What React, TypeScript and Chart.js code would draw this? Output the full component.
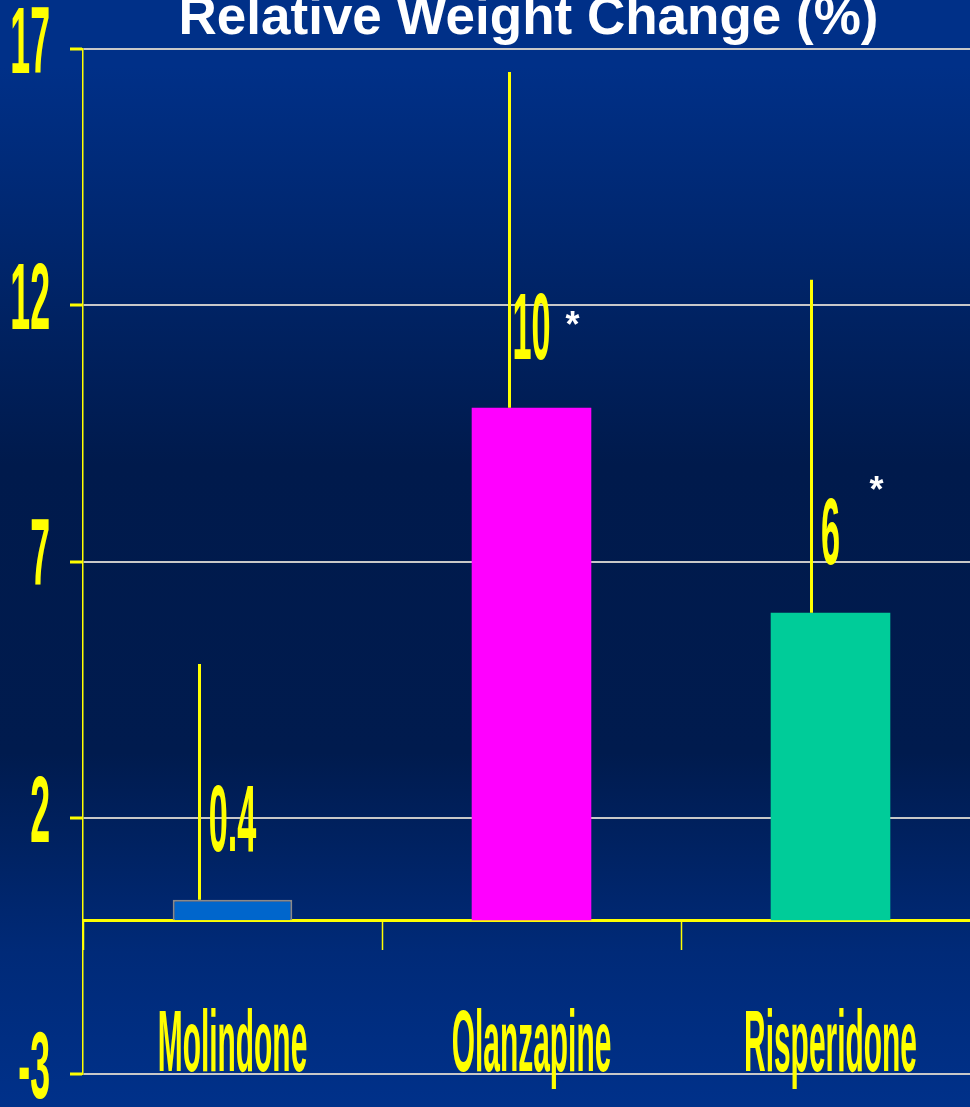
import { useEffect, useRef } from "react";
import { Chart, registerables } from "chart.js";

Chart.register(...registerables);

// ---- data ----
const categories = ["Molindone", "Olanzapine", "Risperidone"];
const values = [0.4, 10, 6];
const valueLabels = ["0.4", "10", "6"];
const errorUpper = [5.0, 16.55, 12.5];
const significant = [false, true, true];
const yTickValues = [-3, 2, 7, 12, 17];
const yTickLabels = ["-3", "2", "7", "12", "17"];
const barColors = ["#0066cc", "#ff00ff", "#00cc99"];
const titleText = "Relative Weight Change (%)";

// ---- styles ----
const YELLOW = "#ffff00";
const ERR_SHIFT = [-33, -22, -19];
const STAR_OFFSETS: ({ dx: number; dy: number } | null)[] = [null, { dx: 41, dy: -87 }, { dx: 46, dy: -127 }];
const FONT = '"Liberation Sans", Arial, sans-serif';

function squeezed(
  ctx: CanvasRenderingContext2D,
  text: string,
  x: number,
  y: number,
  size: number,
  sx: number,
  align: CanvasTextAlign,
  baseline: CanvasTextBaseline,
  color: string
) {
  ctx.save();
  ctx.translate(x, y);
  ctx.scale(sx, 1);
  ctx.font = `bold ${size}px ${FONT}`;
  ctx.textAlign = align;
  ctx.textBaseline = baseline;
  ctx.fillStyle = color;
  ctx.fillText(text, 0, 0);
  ctx.restore();
}

const decor = {
  id: "decor",
  beforeDraw(chart: any) {
    const { ctx, width, height } = chart;
    const g = ctx.createLinearGradient(0, 0, 0, height);
    g.addColorStop(0, "#003088");
    g.addColorStop(0.06, "#003088");
    g.addColorStop(0.42, "#001a4c");
    g.addColorStop(0.68, "#001b4e");
    g.addColorStop(0.86, "#002a78");
    g.addColorStop(1, "#00318a");
    ctx.save();
    ctx.fillStyle = g;
    ctx.fillRect(0, 0, width, height);
    ctx.restore();
  },
  afterDatasetsDraw(chart: any) {
    const { ctx } = chart;
    const y = chart.scales.y;
    const meta = chart.getDatasetMeta(0);
    ctx.save();
    ctx.strokeStyle = YELLOW;
    ctx.lineWidth = 3;
    meta.data.forEach((bar: any, i: number) => {
      const x = bar.x + ERR_SHIFT[i];
      ctx.beginPath();
      ctx.moveTo(x, bar.y);
      ctx.lineTo(x, y.getPixelForValue(errorUpper[i]));
      ctx.stroke();
    });
    ctx.restore();
  },
  afterDraw(chart: any) {
    const { ctx, chartArea } = chart;
    const y = chart.scales.y;
    const x = chart.scales.x;
    const meta = chart.getDatasetMeta(0);

    // title
    ctx.save();
    ctx.font = `bold 53px ${FONT}`;
    ctx.fillStyle = "#ffffff";
    ctx.textAlign = "center";
    ctx.textBaseline = "alphabetic";
    ctx.fillText(titleText, (chartArea.left + chartArea.right) / 2 - 3, 34);
    ctx.restore();

    // y tick labels
    yTickValues.forEach((v, i) => {
      squeezed(ctx, yTickLabels[i], y.right - 33, y.getPixelForValue(v) - 2, 94, 0.38, "right", "middle", YELLOW);
    });

    // category labels inside plot
    categories.forEach((c, i) => {
      squeezed(ctx, c, x.getPixelForValue(i), y.getPixelForValue(yTickValues[0]) - 3, 88, 0.34, "center", "alphabetic", YELLOW);
    });

    // value labels & significance stars
    meta.data.forEach((bar: any, i: number) => {
      squeezed(ctx, valueLabels[i], bar.x, bar.y - 49, 95, 0.36, "center", "alphabetic", YELLOW);
      const s = STAR_OFFSETS[i];
      if (significant[i] && s) {
        ctx.save();
        ctx.font = `bold 36px ${FONT}`;
        ctx.fillStyle = "#ffffff";
        ctx.textAlign = "center";
        ctx.textBaseline = "middle";
        ctx.fillText("*", bar.x + s.dx, bar.y + s.dy + 6);
        ctx.restore();
      }
    });
  },
};

export default function App() {
  const ref = useRef<HTMLCanvasElement | null>(null);
  useEffect(() => {
    document.body.style.margin = "0";
    document.body.style.overflow = "hidden";
    const canvas = ref.current!;
    const chart = new Chart(canvas, {
      type: "bar",
      data: {
        labels: categories,
        datasets: [
          {
            data: values,
            backgroundColor: barColors,
            borderColor: ["#8a8a8a", "rgba(0,0,0,0)", "rgba(0,0,0,0)"],
            borderWidth: [2, 0, 0],
            barPercentage: 0.4,
            categoryPercentage: 1,
          },
        ],
      },
      options: {
        responsive: false,
        animation: false,
        devicePixelRatio: 1,
        layout: { padding: { top: 49, bottom: 33, left: 0, right: 10 } },
        plugins: {
          legend: { display: false },
          tooltip: { enabled: false },
          title: { display: false },
        },
        scales: {
          x: {
            type: "category",
            position: { y: 0 },
            offset: true,
            z: 1,
            grid: {
              drawOnChartArea: false,
              drawTicks: true,
              tickLength: 28,
              tickColor: YELLOW,
              tickWidth: 1.5,
              offset: true,
            },
            border: { display: true, color: YELLOW, width: 3 },
            ticks: { display: false },
          },
          y: {
            min: -3,
            max: 17,
            afterBuildTicks: (s: any) => {
              s.ticks = yTickValues.map((v) => ({ value: v }));
            },
            grid: {
              color: "#c8c8c8",
              lineWidth: 2,
              drawTicks: true,
              tickColor: YELLOW,
              tickLength: 13,
              tickWidth: 3,
            },
            border: { display: true, color: YELLOW, width: 1.5 },
            ticks: { display: false },
            afterFit: (s: any) => {
              s.width = 83;
            },
          },
        },
      },
      plugins: [decor],
    } as any);
    return () => chart.destroy();
  }, []);
  return (
    <div style={{ position: "fixed", left: 0, top: 0, width: 970, height: 1107, overflow: "hidden" }}>
      <canvas ref={ref} width={990} height={1107} style={{ width: 990, height: 1107, display: "block" }} />
    </div>
  );
}
